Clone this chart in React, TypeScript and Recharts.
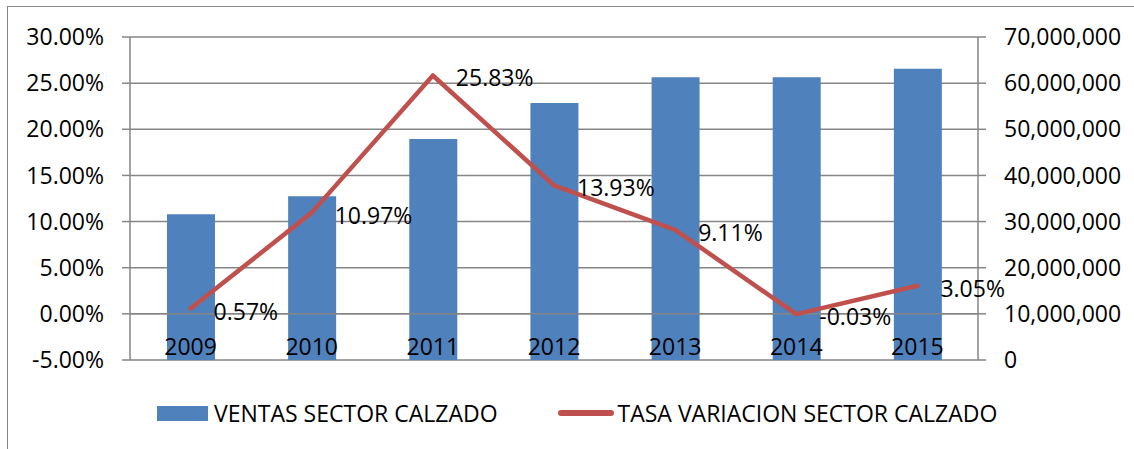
import React from "react";
import {
  ComposedChart,
  Bar,
  Line,
  XAxis,
  YAxis,
  CartesianGrid,
  ReferenceLine,
  LabelList,
  Legend,
} from "recharts";

const years = ["2009", "2010", "2011", "2012", "2013", "2014", "2015"];
const ventas = [31600000, 35500000, 47900000, 55700000, 61300000, 61300000, 63100000];
const tasa = [0.57, 10.97, 25.83, 13.93, 9.11, -0.03, 3.05];
const pctTicks = [-5, 0, 5, 10, 15, 20, 25, 30];
const salesTicks = [0, 10000000, 20000000, 30000000, 40000000, 50000000, 60000000, 70000000];

const data = years.map((y, i) => ({ year: y, ventas: ventas[i], tasa: tasa[i] }));

const FONT = "'Open Sans', sans-serif";
const BLUE = "#4F81BD";
const RED = "#C0504D";
const GRID = "#868686";

const YearTick = (props: any) => {
  const { x, y, payload } = props;
  return (
    <text x={x} y={y - 5} textAnchor="middle" fontFamily={FONT} fontSize={23} fill="#000">
      {payload.value}
    </text>
  );
};

const PointLabel = (props: any) => {
  const { x, y, value } = props;
  return (
    <text x={x + 23} y={y + 2} dominantBaseline="central" fontFamily={FONT} fontSize={23} fill="#000">
      {value.toFixed(2)}%
    </text>
  );
};

const LegendBox = () => (
  <div style={{ display: "flex", alignItems: "center", fontFamily: FONT, fontSize: 23, color: "#000", height: 30 }}>
    <span style={{ display: "inline-block", width: 51, height: 15, background: BLUE, marginLeft: 157 }} />
    <span style={{ marginLeft: 6 }}>VENTAS SECTOR CALZADO</span>
    <span style={{ display: "inline-block", width: 56, height: 6, borderRadius: 3, background: RED, marginLeft: 60 }} />
    <span style={{ marginLeft: 4 }}>TASA VARIACION SECTOR CALZADO</span>
  </div>
);

export default function App() {
  return (
    <div style={{ position: "absolute", left: 0, top: 0, width: 1134, height: 449, overflow: "hidden", background: "#fff" }}>
      <div style={{ position: "absolute", left: 7, top: 6, width: 1300, height: 600, border: `1px solid ${GRID}` }} />
      <ComposedChart
        width={1134}
        height={449}
        data={data}
        margin={{ top: 37, right: 0, bottom: 59, left: 0 }}
        barCategoryGap={0}
      >
        <CartesianGrid vertical={false} stroke={GRID} strokeWidth={1.5} yAxisId="left" />
        <XAxis
          dataKey="year"
          height={30}
          axisLine={false}
          tickLine={false}
          tickSize={0}
          tickMargin={0}
          tick={<YearTick />}
          interval={0}
        />
        <YAxis
          yAxisId="left"
          orientation="left"
          width={130}
          domain={[-5, 30]}
          ticks={pctTicks}
          interval={0}
          tickFormatter={(v: number) => `${v.toFixed(2)}%`}
          tick={{ fill: "#000", fontFamily: FONT, fontSize: 23 }}
          stroke={GRID}
          strokeWidth={1.5}
          tickSize={8}
          tickMargin={18}
        />
        <YAxis
          yAxisId="right"
          orientation="right"
          width={156}
          domain={[0, 70000000]}
          ticks={salesTicks}
          interval={0}
          tickFormatter={(v: number) => v.toLocaleString("en-US")}
          tick={{ fill: "#000", fontFamily: FONT, fontSize: 23, textAnchor: "start" }}
          stroke={GRID}
          strokeWidth={1.5}
          tickSize={8}
          tickMargin={18}
        />
        <ReferenceLine yAxisId="left" y={0} stroke={GRID} strokeWidth={1.5} />
        <Bar yAxisId="right" dataKey="ventas" fill={BLUE} barSize={48} isAnimationActive={false} />
        <Line
          yAxisId="left"
          dataKey="tasa"
          stroke={RED}
          strokeWidth={4.5}
          dot={false}
          activeDot={false}
          strokeLinecap="round"
          strokeLinejoin="round"
          isAnimationActive={false}
        >
          <LabelList dataKey="tasa" content={<PointLabel />} />
        </Line>
        <Legend
          verticalAlign="middle"
          layout="horizontal"
          content={<LegendBox />}
          wrapperStyle={{ position: "absolute", left: 0, top: 398, width: 1134 }}
        />
      </ComposedChart>
    </div>
  );
}
